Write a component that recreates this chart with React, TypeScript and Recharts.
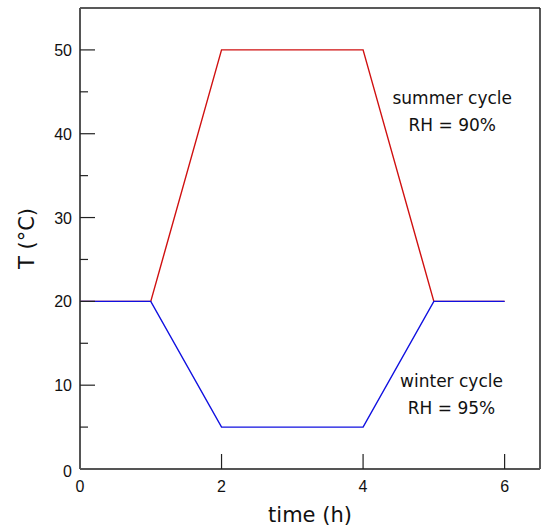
import React from 'react';
import {
  LineChart,
  Line,
  XAxis,
  YAxis,
  Label,
  ReferenceLine,
  ReferenceDot,
} from 'recharts';

// time (h) and temperature (°C) for both cycles
const timeH = [0, 1, 2, 4, 5, 6];
const summerT = [20, 20, 50, 50, 20, 20];
const winterT = [20, 20, 5, 5, 20, 20];

const xTicks = [0, 2, 4, 6];
const yTicks = [0, 5, 10, 15, 20, 25, 30, 35, 40, 45, 50];

const data = timeH.map((t, i) => ({ t, summer: summerT[i], winter: winterT[i] }));

const TICK_FONT = '"Liberation Sans", Arial, sans-serif';
const TEXT_FONT = '"DejaVu Sans", sans-serif';

// y ticks drawn inward, long + label every 10, short in between
const YTick = ({ x, y, payload }: any) => {
  const v = payload.value;
  const major = v % 10 === 0;
  return (
    <g>
      {v !== 0 && (
        <line x1={x} y1={y} x2={x + (major ? 15 : 8)} y2={y} stroke="#222" strokeWidth={1.2} />
      )}
      {major && (
        <text x={x - 8} y={y + (v === 0 ? 8 : 6)} textAnchor="end" fontSize={16} fontFamily={TICK_FONT} fill="#111">
          {v}
        </text>
      )}
    </g>
  );
};

const XTick = ({ x, y, payload }: any) => {
  const v = payload.value;
  return (
    <g>
      {v !== 0 && <line x1={x} y1={y} x2={x} y2={y - 15} stroke="#222" strokeWidth={1.2} />}
      <text x={x} y={y + 23} textAnchor="middle" fontSize={16} fontFamily={TICK_FONT} fill="#111">
        {v}
      </text>
    </g>
  );
};

const twoLines = (a: string, b: string) => ({ viewBox }: any) => {
  const cx = viewBox.x + viewBox.width / 2;
  const cy = viewBox.y + viewBox.height / 2;
  return (
    <text textAnchor="middle" fontSize={17} fontFamily={TEXT_FONT} fill="#111">
      <tspan x={cx} y={cy}>{a}</tspan>
      <tspan x={cx} y={cy + 27}>{b}</tspan>
    </text>
  );
};

export default function App() {
  return (
    <div style={{ position: 'absolute', left: 0, top: 0 }}>
      <LineChart
        width={541}
        height={530}
        data={data}
        margin={{ top: 8, right: 1, left: 0, bottom: 0 }}
      >
        <XAxis
          dataKey="t"
          type="number"
          domain={[0, 6.5]}
          ticks={xTicks}
          interval={0}
          height={61}
          tickSize={0}
          tickMargin={0}
          tickLine={false}
          tick={<XTick />}
          axisLine={{ stroke: '#555', strokeWidth: 2 }}
        >
          <Label
            value="time (h)"
            position="insideBottom"
            offset={8}
            fontSize={21}
            fontFamily={TEXT_FONT}
            fill="#111"
          />
        </XAxis>
        <YAxis
          type="number"
          domain={[0, 55]}
          ticks={yTicks}
          interval={0}
          width={80}
          tickSize={0}
          tickMargin={0}
          tickLine={false}
          tick={<YTick />}
          axisLine={{ stroke: '#555', strokeWidth: 2 }}
        >
          <Label
            content={({ viewBox }: any) => {
              const bx = viewBox.x + 34;
              const by = viewBox.y + viewBox.height / 2;
              return (
                <text
                  x={bx}
                  y={by}
                  transform={`rotate(-90, ${bx}, ${by})`}
                  textAnchor="middle"
                  fontSize={21}
                  fontFamily={TEXT_FONT}
                  fill="#111"
                >
                  T (°C)
                </text>
              );
            }}
          />
        </YAxis>
        <ReferenceLine y={55} stroke="#222" strokeWidth={1.5} ifOverflow="visible" />
        <ReferenceLine x={6.5} stroke="#222" strokeWidth={1.5} ifOverflow="visible" />
        <Line
          type="linear"
          dataKey="summer"
          stroke="#d01010"
          strokeWidth={1.4}
          dot={false}
          isAnimationActive={false}
        />
        <Line
          type="linear"
          dataKey="winter"
          stroke="#1010e0"
          strokeWidth={1.4}
          dot={false}
          isAnimationActive={false}
        />
        <ReferenceDot
          x={5.26}
          y={43.6}
          r={1}
          fill="none"
          stroke="none"
          label={{ content: twoLines('summer cycle', 'RH = 90%') }}
        />
        <ReferenceDot
          x={5.25}
          y={9.8}
          r={1}
          fill="none"
          stroke="none"
          label={{ content: twoLines('winter cycle', 'RH = 95%') }}
        />
      </LineChart>
    </div>
  );
}
